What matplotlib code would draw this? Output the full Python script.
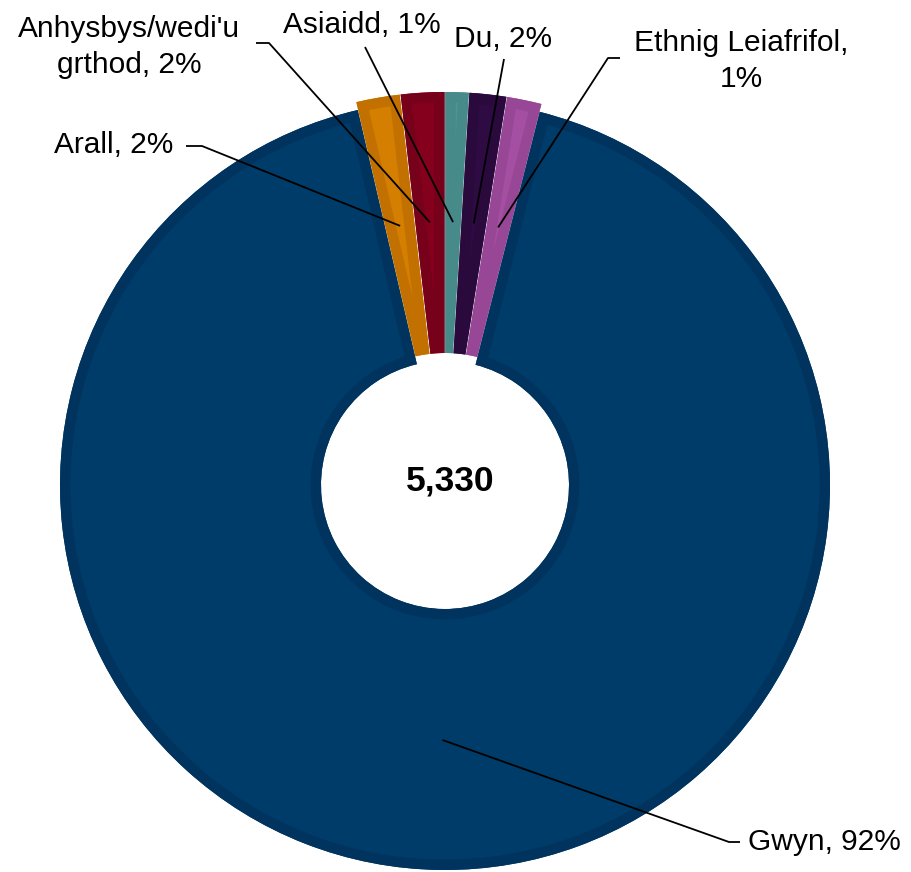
import matplotlib.pyplot as plt
import matplotlib.patches as mpatches
import numpy as np

plt.rcParams['font.family'] = ['Liberation Sans', 'DejaVu Sans']

# ethnic group counts (clockwise from 12 o'clock)
groups = ["Asiaidd", "Du", "Ethnig Leiafrifol,\n", "Gwyn", "Arall", "Anhysbys/wedi'u\ngrthod"]
counts = [52, 82, 77, 4925, 97, 97]
total = sum(counts)

colors = ["#4f9594", "#2f0b43", "#a44fa1", "#003c69", "#d57f00", "#84001d"]
edges = ["#468b8a", "#2a093c", "#974795", "#00345e", "#c27100", "#77001a"]

# label text positions (pixel coords, y from top) and leader start points
text_pos = [(362, 25), (503, 39), (741, 61), (748, 842), (173, 145), (129, 47)]
text_ha = ["center", "center", "center", "left", "right", "center"]
leader_start = [[(365, 47)], [(504, 59)], [(620, 58), (608, 58)],
                [(740, 842), (729, 842)], [(186, 146), (202, 146)],
                [(256, 43), (269, 43)]]

W, H = 912, 872
fig = plt.figure(figsize=(W / 100, H / 100), dpi=100)
ax = fig.add_axes([0, 0, 1, 1])
ax.axis('off')

cx, cy = 445, H - 485
R = 385
explode = [8, 8, 8, 0, 8, 8]

wedges, _ = ax.pie(counts, colors=colors, startangle=90, counterclock=False,
                   center=(cx, cy), radius=R, explode=explode,
                   wedgeprops=dict(width=261, linewidth=0))
ax.set_xlim(0, W)
ax.set_ylim(0, H)
ax.set_aspect('equal')

# darker rim inside each slice
for w, ec in zip(wedges, edges):
    rim = mpatches.Wedge(w.center, w.r, w.theta1, w.theta2, width=w.width,
                         facecolor='none', edgecolor=ec, linewidth=15)
    ax.add_patch(rim)
    rim.set_clip_path(w)

for i, w in enumerate(wedges):
    pct = counts[i] / total * 100
    name = groups[i]
    if name.endswith("\n"):
        label = name + f"{pct:.0f}%"
    else:
        label = f"{name}, {pct:.0f}%"
    tx, ty = text_pos[i]
    ax.text(tx, H - ty, label, ha=text_ha[i], va='center', fontsize=21.5,
            linespacing=1.38)
    mid = np.deg2rad((w.theta1 + w.theta2) / 2)
    ex = w.center[0] + 255 * np.cos(mid)
    ey = w.center[1] + 255 * np.sin(mid)
    xs = [p[0] for p in leader_start[i]] + [ex]
    ys = [H - p[1] for p in leader_start[i]] + [ey]
    ax.plot(xs, ys, color='black', linewidth=1.3, solid_capstyle='butt')

ax.text(cx + 5, H - 481, f"{total:,}", ha='center', va='center',
        fontsize=25.5, fontweight='bold')

fig.savefig('out.png', dpi=100)
